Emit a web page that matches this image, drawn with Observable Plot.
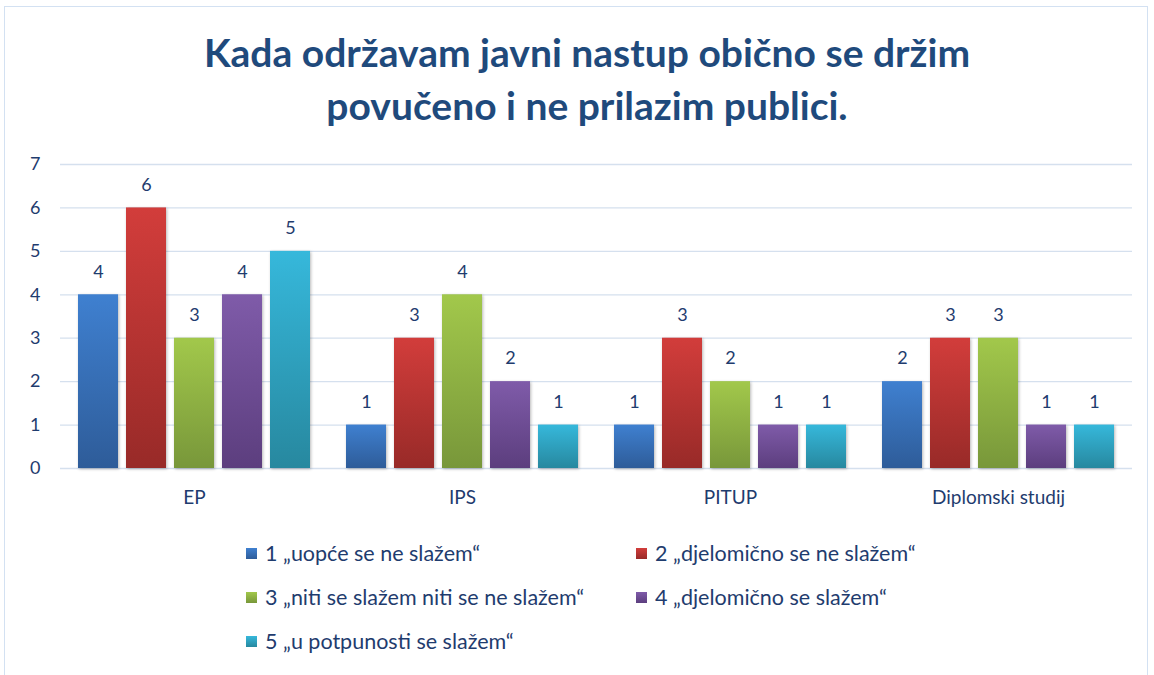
<!DOCTYPE html>
<html>
<head>
<meta charset="utf-8">
<script src="https://cdn.jsdelivr.net/npm/d3@7"></script>
<script src="https://cdn.jsdelivr.net/npm/@observablehq/plot@0.6"></script>
<style>
  html, body { margin: 0; padding: 0; background: #fff; }
  body { width: 1154px; height: 675px; position: relative; overflow: hidden; font-family: Lato, "Open Sans", sans-serif; }
  #frame { position: absolute; left: 4px; top: 6px; width: 1144px; height: 700px; border: 1px solid #d3e1f2; box-sizing: border-box; }
  #title { position: absolute; left: 20px; width: 1134px; top: 26px; text-align: center; font-weight: bold; font-size: 39px; line-height: 53px; color: #1f4a7c; }
  #chart { position: absolute; left: 0; top: 140px; }
  #chart g[aria-label="bar"] rect { filter: drop-shadow(1.5px 1.5px 1.5px rgba(0,0,0,0.28)); }
  #legend { position: absolute; left: 246px; top: 531px; display: grid; grid-template-columns: 390px 300px; row-gap: 0; }
  .item { display: flex; align-items: center; height: 44px; font-size: 21.5px; color: #1f3c6e; white-space: nowrap; }
  .sw { width: 11px; height: 11px; margin-right: 8px; }
</style>
</head>
<body>
<div id="frame"></div>
<div id="title">Kada održavam javni nastup obično se držim<br>povučeno i ne prilazim publici.</div>
<div id="chart"></div>
<div id="legend"></div>
<script>
const categories = ["EP", "IPS", "PITUP", "Diplomski studij"];
const series = ["1 „uopće se ne slažem“", "2 „djelomično se ne slažem“", "3 „niti se slažem niti se ne slažem“", "4 „djelomično se slažem“", "5 „u potpunosti se slažem“"];
const values = [
  [4, 6, 3, 4, 5],
  [1, 3, 4, 2, 1],
  [1, 3, 2, 1, 1],
  [2, 3, 3, 1, 1]
];
const yTicks = [0, 1, 2, 3, 4, 5, 6, 7];
const colorsTop = ["#3f80d0", "#d23d3b", "#a2c84b", "#7f5ba9", "#36b8db"];
const colorsBottom = ["#2e5c99", "#982a28", "#78973a", "#5c3e7e", "#27889f"];

const data = [];
categories.forEach((c, i) => series.forEach((s, j) => data.push({category: c, series: s, value: values[i][j]})));

const gradIds = series.map((s, i) => `grad${i}`);
const textColor = "#1f3c6e";

const plot = Plot.plot({
  width: 1154,
  height: 373,
  marginLeft: 60,
  marginRight: 22,
  marginTop: 24,
  marginBottom: 45,
  style: {fontFamily: "Lato, 'Open Sans', sans-serif", color: textColor, background: "transparent"},
  fx: {domain: categories, padding: 0, label: null, axis: null},
  x: {domain: series, axis: null, paddingInner: 0.17, paddingOuter: 0.375},
  y: {domain: [0, 7], label: null, axis: null},
  color: {domain: series, range: gradIds.map(id => `url(#${id})`)},
  marks: [
    Plot.ruleY(yTicks, {stroke: "#d5e0ee", strokeWidth: 1.3}),
    Plot.barY(data, {fx: "category", x: "series", y: "value", fill: "series"}),
    Plot.text(data, {fx: "category", x: "series", y: "value", text: d => String(d.value), dy: -23, fontSize: 18, fill: textColor}),
    Plot.axisY({ticks: yTicks, tickFormat: "d", tickSize: 0, tickPadding: 20, fontSize: 18, label: null, stroke: null}),
    Plot.axisFx({anchor: "bottom", tickSize: 0, tickPadding: 22, fontSize: 19, label: null})
  ]
});

// gradients
const svgNS = "http://www.w3.org/2000/svg";
const defs = document.createElementNS(svgNS, "defs");
gradIds.forEach((id, i) => {
  const lg = document.createElementNS(svgNS, "linearGradient");
  lg.setAttribute("id", id);
  lg.setAttribute("x1", "0"); lg.setAttribute("y1", "0"); lg.setAttribute("x2", "0"); lg.setAttribute("y2", "1");
  [[0, colorsTop[i]], [1, colorsBottom[i]]].forEach(([o, c]) => {
    const st = document.createElementNS(svgNS, "stop");
    st.setAttribute("offset", o);
    st.setAttribute("stop-color", c);
    lg.appendChild(st);
  });
  defs.appendChild(lg);
});
plot.insertBefore(defs, plot.firstChild);
document.getElementById("chart").appendChild(plot);

// legend
const legend = document.getElementById("legend");
series.forEach((s, i) => {
  const item = document.createElement("div");
  item.className = "item";
  const sw = document.createElement("div");
  sw.className = "sw";
  sw.style.background = `linear-gradient(${colorsTop[i]}, ${colorsBottom[i]})`;
  const lab = document.createElement("span");
  lab.textContent = s;
  item.appendChild(sw);
  item.appendChild(lab);
  legend.appendChild(item);
});
</script>
</body>
</html>
